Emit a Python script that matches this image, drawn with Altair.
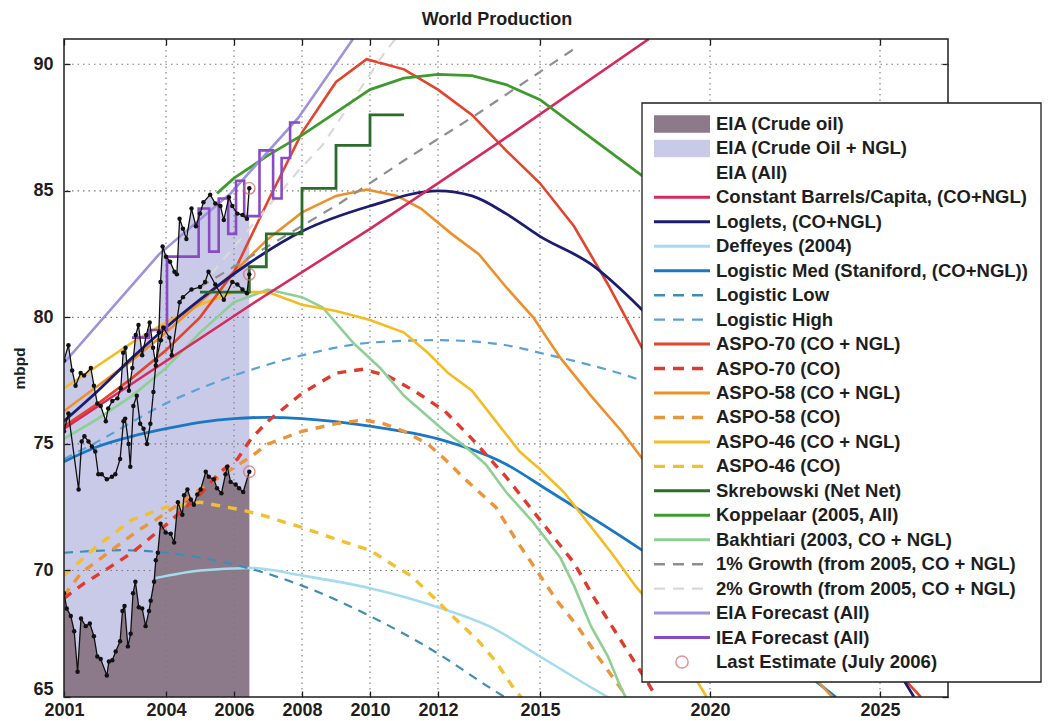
import altair as alt
import pandas as pd

FONT = "Liberation Sans"
INK = "#1e1e1e"
W, H = 884, 658

x_ticks = [2001, 2004, 2006, 2008, 2010, 2012, 2015, 2020, 2025]
y_ticks = [65, 70, 75, 80, 85, 90]
grid_x = [2004, 2006, 2008, 2010, 2012, 2015, 2020, 2025]
grid_y = [70, 75, 80, 85, 90]
title_text = "World Production"

# ---- EIA monthly data ----
crude_t = [2001.00, 2001.08, 2001.20, 2001.30, 2001.40, 2001.50, 2001.64, 2001.76, 2001.88, 2001.98,
           2002.08, 2002.26, 2002.32, 2002.42, 2002.52, 2002.65, 2002.72, 2002.78, 2002.88, 2002.96,
           2003.03, 2003.10, 2003.20, 2003.30, 2003.40, 2003.50, 2003.55, 2003.65, 2003.70, 2003.76,
           2003.84, 2003.99, 2004.14, 2004.24, 2004.35, 2004.48, 2004.53, 2004.63, 2004.73, 2004.82,
           2004.92, 2005.02, 2005.17, 2005.26, 2005.41, 2005.50, 2005.63, 2005.75, 2005.80, 2005.90,
           2006.05, 2006.15, 2006.27, 2006.45]
crude_v = [69.1, 68.5, 68.2, 67.6, 66.0, 68.1, 67.8, 67.9, 67.4, 66.6,
           66.5, 65.85, 66.4, 66.45, 66.8, 67.2, 68.4, 68.6, 67.0, 67.5,
           69.1, 69.55, 68.55, 68.5, 67.8, 68.4, 68.8, 69.55, 70.4, 70.7,
           71.85, 71.5, 71.45, 71.1, 72.7, 72.2, 72.97, 73.2, 72.8, 72.6,
           73.0, 73.2, 73.9, 73.7, 73.6, 73.25, 73.05, 73.8, 74.1, 73.5,
           73.4, 73.25, 73.1, 73.9]

cong_t = [2001.00, 2001.13, 2001.43, 2001.52, 2001.60, 2001.72, 2001.82, 2001.92, 2002.01, 2002.11,
          2002.26, 2002.41, 2002.51, 2002.65, 2002.75, 2002.80, 2002.90, 2002.95, 2003.04, 2003.14,
          2003.24, 2003.34, 2003.44, 2003.54, 2003.63, 2003.71, 2003.85, 2003.92, 2004.10, 2004.17,
          2004.40, 2004.50, 2004.75, 2005.00, 2005.15, 2005.25, 2005.45, 2005.70, 2005.95, 2006.10,
          2006.25, 2006.38, 2006.45]
cong_v = [75.5, 76.2, 73.2, 75.1, 75.3, 75.1, 74.9, 74.7, 73.8, 73.8,
          73.6, 73.7, 73.8, 74.4, 75.9, 76.0, 75.0, 74.1, 76.5, 76.9,
          75.8, 75.6, 75.0, 75.8, 77.05, 78.3, 79.1, 79.6, 79.2, 78.5,
          80.6, 80.8, 81.1, 81.2, 81.4, 81.8, 81.3, 80.7, 81.4, 81.3,
          81.1, 80.95, 81.7]

all_t = [2001.00, 2001.13, 2001.24, 2001.34, 2001.49, 2001.59, 2001.79, 2001.88, 2001.98, 2002.08,
         2002.23, 2002.30, 2002.42, 2002.57, 2002.67, 2002.74, 2002.81, 2002.91, 2003.01, 2003.11,
         2003.19, 2003.30, 2003.42, 2003.52, 2003.62, 2003.70, 2003.79, 2003.84, 2003.90, 2004.00,
         2004.12, 2004.25, 2004.32, 2004.40, 2004.50, 2004.60, 2004.75, 2004.88, 2005.00, 2005.10,
         2005.30, 2005.45, 2005.60, 2005.70, 2005.85, 2005.95, 2006.10, 2006.25, 2006.38, 2006.45]
all_v = [78.3, 78.9, 77.9, 77.3, 77.8, 77.7, 78.0, 77.3, 76.6, 76.5,
         75.9, 76.4, 76.7, 76.8, 77.2, 78.6, 78.8, 77.1, 78.0, 79.3,
         79.7, 78.5, 79.3, 79.8, 78.8, 78.1, 79.4, 81.4, 82.8, 82.4,
         82.2, 81.8, 81.7, 83.9, 83.5, 83.1, 84.3, 83.6, 84.1, 84.55,
         84.85, 84.5, 84.4, 83.85, 84.75, 84.4, 84.1, 84.05, 83.9, 85.1]

# ---- forecasts ----
cbc_t = [2001, 2006.5, 2010, 2014, 2018.2]
cbc_v = [75.6, 80.5, 83.5, 87.1, 91.0]
loglet_t = [2001, 2002, 2003, 2004, 2005, 2006.4, 2008, 2010, 2012, 2013, 2014, 2015, 2016.5, 2018, 2020, 2022, 2024, 2026]
loglet_v = [75.9, 77.1, 78.4, 79.6, 80.7, 82.1, 83.4, 84.4, 85.0, 84.8, 84.1, 83.2, 82.1, 80.3, 77.3, 73.6, 69.4, 65.0]
deff_t = [2003.7, 2005, 2006.5, 2008, 2010, 2012, 2013.5, 2015, 2016.6, 2017.5]
deff_v = [69.7, 70.0, 70.1, 69.8, 69.3, 68.55, 67.8, 66.6, 65.3, 64.6]
lmed_t = [2001, 2002, 2003, 2004, 2005, 2006, 2007, 2008, 2010, 2012, 2014, 2015.2, 2018, 2020, 2022, 2023.7]
lmed_v = [74.3, 74.9, 75.3, 75.6, 75.85, 76.0, 76.05, 76.0, 75.7, 75.2, 74.2, 73.2, 70.8, 68.9, 66.8, 65.0]
llow_t = [2001, 2002.7, 2004.6, 2006.4, 2008, 2010, 2011.9, 2013.6, 2014.2]
llow_v = [70.7, 70.8, 70.6, 70.1, 69.4, 68.2, 66.8, 65.3, 64.8]
lhigh_t = [2001, 2002, 2004, 2006, 2008, 2010, 2012, 2014, 2015, 2018, 2020]
lhigh_v = [74.4, 75.1, 76.6, 77.7, 78.5, 79.0, 79.1, 78.9, 78.6, 77.5, 76.4]
a70_t = [2001, 2002, 2003, 2004, 2005, 2006, 2007, 2008, 2009, 2009.9, 2011, 2012, 2013, 2014, 2015, 2016, 2017, 2018, 2020, 2022, 2024, 2026.2]
a70_v = [75.7, 76.6, 77.6, 78.7, 80.0, 81.8, 84.6, 87.3, 89.3, 90.2, 89.8, 89.0, 88.0, 86.6, 85.3, 83.6, 81.3, 78.8, 75.0, 71.4, 68.2, 65.0]
a70co_t = [2001, 2001.6, 2002.2, 2003, 2004, 2005, 2005.6, 2006.1, 2006.5, 2007, 2008, 2009, 2009.8, 2010.5, 2011.3, 2012.2, 2013, 2014, 2015, 2016, 2016.6, 2017.3, 2018.2, 2018.5]
a70co_v = [68.9, 69.5, 70.0, 70.7, 71.8, 73.0, 73.9, 74.4, 75.2, 75.9, 77.0, 77.8, 77.95, 77.7, 77.1, 76.3, 75.2, 73.7, 72.0, 70.3, 68.9, 67.4, 65.5, 64.8]
a58_t = [2001, 2002, 2003, 2004, 2005, 2006, 2007, 2008, 2009, 2009.9, 2010.8, 2011.5, 2012.4, 2013.2, 2014, 2014.8, 2015.6, 2016.5, 2017.4, 2018.3, 2020, 2022, 2023.6]
a58_v = [76.3, 77.3, 78.3, 79.4, 80.6, 81.8, 83.1, 84.15, 84.8, 85.05, 84.8, 84.3, 83.3, 82.5, 81.2, 80.0, 78.4, 76.9, 75.5, 73.9, 70.6, 67.3, 65.0]
a58co_t = [2001, 2001.5, 2002.1, 2002.7, 2003.2, 2003.7, 2005, 2006.5, 2007, 2008, 2009, 2009.8, 2010.4, 2011, 2011.7, 2012.2, 2012.8, 2013.7, 2014.3, 2014.9, 2015.5, 2016.1, 2016.7, 2017.4, 2017.6]
a58co_v = [69.0, 69.9, 70.5, 71.1, 71.6, 72.0, 73.2, 74.5, 75.0, 75.5, 75.8, 75.95, 75.8, 75.5, 75.0, 74.4, 73.6, 72.5, 71.2, 70.0, 68.8, 67.8, 66.6, 65.3, 64.9]
a46_t = [2001, 2002, 2003, 2004, 2005, 2006, 2007, 2008, 2009, 2010, 2011, 2011.7, 2012.3, 2013, 2013.7, 2014.4, 2015, 2015.7, 2016.4, 2017.1, 2017.8, 2018.3, 2019.9]
a46_v = [77.2, 78.1, 79.0, 79.8, 80.5, 81.0, 81.0, 80.5, 80.25, 79.9, 79.4, 78.6, 77.8, 77.1, 75.9, 74.7, 74.0, 73.1, 71.9, 70.7, 69.4, 68.6, 65.0]
a46co_t = [2001, 2002, 2003, 2004, 2005, 2006.2, 2006.8, 2007.5, 2008, 2009.3, 2010, 2010.7, 2011.2, 2011.9, 2012.5, 2013.2, 2013.7, 2014.2, 2014.5]
a46co_v = [69.8, 71.0, 72.0, 72.5, 72.7, 72.4, 72.2, 71.9, 71.7, 71.1, 70.8, 70.2, 69.8, 68.9, 68.1, 67.2, 66.4, 65.4, 64.9]
skr_t = [2005.0, 2006.45, 2006.95, 2008, 2009, 2010, 2011]
skr_v = [81.0, 82.0, 83.3, 85.1, 86.8, 88.0, 88.0]
kop_t = [2005.5, 2006, 2007, 2008, 2009, 2010, 2011, 2012, 2013, 2014, 2015, 2016, 2017, 2018, 2018.4]
kop_v = [84.9, 85.5, 86.4, 87.2, 88.1, 89.0, 89.45, 89.6, 89.55, 89.2, 88.6, 87.6, 86.6, 85.6, 85.2]
bak_t = [2001, 2002, 2003, 2004, 2005, 2006, 2007, 2008, 2008.6, 2009.5, 2010.3, 2011, 2011.6, 2012.2, 2012.8, 2013.4, 2014, 2014.8, 2015.6, 2016, 2016.5, 2017, 2017.4, 2017.6]
bak_v = [75.2, 76.0, 76.9, 78.0, 79.4, 80.6, 81.1, 80.8, 80.4, 79.0, 78.0, 76.9, 76.2, 75.5, 74.9, 74.2, 73.1, 71.9, 70.5, 69.4, 67.8, 66.6, 65.3, 64.8]
g1_t = [2005, 2009.1, 2011, 2013, 2015, 2016.1]
g1_v = [81.2, 84.5, 86.2, 87.9, 89.7, 90.7]
g2_t = [2005, 2007.9, 2008.6, 2010.4, 2010.8]
g2_v = [81.2, 85.8, 86.8, 90.4, 91.1]
eiaf_t = [2001, 2003.8, 2005.9, 2007.9, 2009.5]
eiaf_v = [78.2, 82.5, 84.9, 87.9, 91.0]
ieaf_t = [2003.0, 2003.5, 2004.03, 2004.96, 2005.27, 2005.55, 2005.83, 2006.06, 2006.3, 2006.75, 2007.15, 2007.4, 2007.65, 2007.95]
ieaf_v = [79.2, 79.5, 82.4, 84.3, 82.6, 84.7, 83.3, 85.4, 84.0, 86.6, 84.7, 86.3, 87.7, 87.7]
last_t = [2006.45, 2006.45, 2006.45]
last_v = [85.1, 81.7, 73.9]

legend_labels = [
    "EIA (Crude oil)", "EIA (Crude Oil + NGL)", "EIA (All)",
    "Constant Barrels/Capita, (CO+NGL)", "Loglets, (CO+NGL)", "Deffeyes (2004)",
    "Logistic Med (Staniford, (CO+NGL))", "Logistic Low", "Logistic High",
    "ASPO-70 (CO + NGL)", "ASPO-70 (CO)", "ASPO-58 (CO + NGL)", "ASPO-58 (CO)",
    "ASPO-46 (CO + NGL)", "ASPO-46 (CO)", "Skrebowski (Net Net)", "Koppelaar (2005, All)",
    "Bakhtiari (2003, CO + NGL)", "1% Growth (from 2005, CO + NGL)",
    "2% Growth (from 2005, CO + NGL)", "EIA Forecast (All)", "IEA Forecast (All)",
    "Last Estimate (July 2006)",
]

# ---- styles ----
C = {
    "crude": "#8c7a8a", "cong": "#c9c9e8", "cbc": "#d42a5c", "loglet": "#1c1c72",
    "deff": "#a4dcee", "lmed": "#1a78c2", "llow": "#3f8db5", "lhigh": "#5aa2d6",
    "a70": "#e4432c", "a70co": "#e03a2e", "a58": "#ee8f2c", "a58co": "#e8953c",
    "a46": "#f4bb22", "a46co": "#f0c030", "skr": "#2b6b2b", "kop": "#3f9a2e",
    "bak": "#8fcf95", "g1": "#8e8e8e", "g2": "#d9d9d9", "eiaf": "#9d92dc",
    "ieaf": "#8a4ac2", "last": "#d46a6a",
}
legend_kinds = ["patch", "patch", "none", "solid", "solid", "solid", "solid", "dash", "dash",
                "solid", "dashb", "solid", "dashb", "solid", "dashb", "solid", "solid", "solid",
                "dash", "dash", "solid", "solid", "circle"]
legend_colors = [C["crude"], C["cong"], "#ffffff", C["cbc"], C["loglet"], C["deff"], C["lmed"],
                 C["llow"], C["lhigh"], C["a70"], C["a70co"], C["a58"], C["a58co"], C["a46"],
                 C["a46co"], C["skr"], C["kop"], C["bak"], C["g1"], C["g2"], C["eiaf"],
                 C["ieaf"], C["last"]]

xs = alt.Scale(domain=[2001, 2027], nice=False, zero=False)
ys = alt.Scale(domain=[65, 91], nice=False, zero=False)

TICK = dict(ticks=True, tickSize=6, tickWidth=1.3, tickColor=INK, offset=-6,
            grid=False, domain=False)
LBL = dict(labelFont=FONT, labelFontSize=18, labelFontWeight="bold", labelColor=INK)

x_axis = alt.Axis(values=x_ticks, format="d", labelFlush=False, labelPadding=4,
                  labelOverlap=False, zindex=1, **LBL, **TICK)
x_axis_top = alt.Axis(values=x_ticks, orient="top", labels=False, zindex=1, **TICK)
y_axis = alt.Axis(values=y_ticks, labelPadding=11, zindex=1,
                  labelOffset={"condition": {"test": "datum.value == 65", "value": -8}, "value": 0},
                  titleFont=FONT, titleFontSize=15.5, titleFontWeight="bold",
                  titleColor=INK, titlePadding=5, **LBL, **TICK)
# right-hand ticks sit beneath the legend box (zindex 0)
y_axis_right = alt.Axis(values=y_ticks, orient="right", labels=False, title=None, zindex=0, **TICK)


def X(f="t", axis=None):
    return alt.X(f"{f}:Q", scale=xs, axis=axis, title=None)


def Y(f="v", axis=None):
    return alt.Y(f"{f}:Q", scale=ys, axis=axis, title="mbpd" if axis is y_axis else None)


def line(t, v, color, width=2.6, dash=None, interp="linear"):
    kw = dict(color=color, strokeWidth=width, clip=True, interpolate=interp)
    if dash:
        kw["strokeDash"] = dash
    return alt.Chart(pd.DataFrame({"t": t, "v": v})).mark_line(**kw).encode(x=X(), y=Y())


def area(t, v, color):
    return alt.Chart(pd.DataFrame({"t": t, "v": v})).mark_area(
        color=color, opacity=1, clip=True).encode(x=X(), y=Y(), y2=alt.datum(65))


def black(t, v):
    return alt.Chart(pd.DataFrame({"t": t, "v": v})).mark_line(
        color="#111111", strokeWidth=1.3, clip=True,
        point=alt.OverlayMarkDef(filled=True, color="#111111", size=20)).encode(x=X(), y=Y())


DASH_B = [9, 8]
DASH_L = [9, 7]
DASH_G = [10, 8]

GRID = dict(color="#7a7a7a", strokeDash=[1.5, 4], strokeWidth=1.1)
grid_v = alt.Chart(pd.DataFrame({"t": grid_x})).mark_rule(**GRID).encode(x=X(axis=x_axis))
grid_h = alt.Chart(pd.DataFrame({"v": grid_y})).mark_rule(**GRID).encode(y=Y(axis=y_axis))
ticks_top = alt.Chart(pd.DataFrame({"t": grid_x})).mark_rule(opacity=0).encode(x=X(axis=x_axis_top))
ticks_right = alt.Chart(pd.DataFrame({"v": grid_y})).mark_rule(opacity=0).encode(y=Y(axis=y_axis_right))

frame = alt.Chart(alt.Data(values=[{"f": 1}])).mark_rect(
    fillOpacity=0, stroke=INK, strokeWidth=1.5).encode(
    x=alt.value(0), x2=alt.value(W), y=alt.value(0), y2=alt.value(H))

last = alt.Chart(pd.DataFrame({"t": last_t, "v": last_v})).mark_point(
    shape="circle", filled=False, size=130, color=C["last"], strokeWidth=1.5,
    clip=True).encode(x=X(), y=Y())

main = alt.layer(
    area(all_t, all_v, C["cong"]),
    area(crude_t, crude_v, C["crude"]),
    grid_v, grid_h, ticks_top, ticks_right,
    line(deff_t, deff_v, C["deff"], interp="monotone"),
    line(llow_t, llow_v, C["llow"], 2.2, DASH_L, "monotone"),
    line(lhigh_t, lhigh_v, C["lhigh"], 2.2, DASH_L, "monotone"),
    line(lmed_t, lmed_v, C["lmed"], 2.8, interp="monotone"),
    line(a46co_t, a46co_v, C["a46co"], 3.4, DASH_B),
    line(a58co_t, a58co_v, C["a58co"], 3.4, DASH_B),
    line(a70co_t, a70co_v, C["a70co"], 3.4, DASH_B),
    line(bak_t, bak_v, C["bak"]),
    line(a46_t, a46_v, C["a46"]),
    line(a58_t, a58_v, C["a58"]),
    line(a70_t, a70_v, C["a70"]),
    line(loglet_t, loglet_v, C["loglet"], 2.8, interp="monotone"),
    line(cbc_t, cbc_v, C["cbc"]),
    line(g1_t, g1_v, C["g1"], 2.2, DASH_G),
    line(g2_t, g2_v, C["g2"], 2.2, DASH_G),
    line(kop_t, kop_v, C["kop"], 2.8),
    line(skr_t, skr_v, C["skr"], 2.8, interp="step-after"),
    line(eiaf_t, eiaf_v, C["eiaf"]),
    line(ieaf_t, ieaf_v, C["ieaf"], 2.6, interp="step-after"),
    black(crude_t, crude_v),
    black(cong_t, cong_v),
    black(all_t, all_v),
    last,
    frame,
).resolve_axis(x="independent", y="independent")

# ---- legend box ----
leg = pd.DataFrame({"row": list(range(len(legend_labels))), "label": legend_labels,
                    "kind": legend_kinds, "color": legend_colors})
ly = alt.Scale(domain=[0, len(legend_labels) - 1], range=[85, 623])
LY = alt.Y("row:Q", scale=ly, axis=None)
base = alt.Chart(leg)

leg_box = alt.Chart(alt.Data(values=[{"f": 1}])).mark_rect(
    fill="white", stroke=INK, strokeWidth=1.3).encode(
    x=alt.value(578), x2=alt.value(977), y=alt.value(64), y2=alt.value(643))
leg_patch = base.transform_filter(alt.datum.kind == "patch").transform_calculate(
    r0="datum.row - 0.36", r1="datum.row + 0.36").mark_rect().encode(
    x=alt.value(590), x2=alt.value(646),
    y=alt.Y("r0:Q", scale=ly, axis=None), y2="r1:Q",
    color=alt.Color("color:N", scale=None))
leg_solid = base.transform_filter(alt.datum.kind == "solid").mark_rule(strokeWidth=3).encode(
    x=alt.value(590), x2=alt.value(646), y=LY, color=alt.Color("color:N", scale=None))
leg_dash = base.transform_filter(alt.datum.kind == "dash").mark_rule(
    strokeWidth=2.4, strokeDash=[11, 8]).encode(
    x=alt.value(590), x2=alt.value(646), y=LY, color=alt.Color("color:N", scale=None))
leg_dashb = base.transform_filter(alt.datum.kind == "dashb").mark_rule(
    strokeWidth=3.4, strokeDash=[11, 8]).encode(
    x=alt.value(590), x2=alt.value(646), y=LY, color=alt.Color("color:N", scale=None))
leg_circ = base.transform_filter(alt.datum.kind == "circle").mark_point(
    shape="circle", filled=False, size=150, strokeWidth=1.5).encode(
    x=alt.value(618), y=LY, color=alt.Color("color:N", scale=None))
leg_text = base.mark_text(align="left", baseline="middle", font=FONT, fontSize=18.5,
                          fontWeight="bold", color=INK).encode(
    x=alt.value(652), y=LY, text="label:N")

title_mark = alt.Chart(alt.Data(values=[{"f": 1}])).mark_text(
    text=title_text, font=FONT, fontSize=18, fontWeight="bold", color=INK,
    align="center", baseline="alphabetic").encode(
    x=alt.value(W / 2 - 9), y=alt.value(-14))

legend = alt.layer(leg_box, leg_patch, leg_solid, leg_dash, leg_dashb, leg_circ, leg_text, title_mark)

chart = alt.layer(main, legend).resolve_scale(y="independent").properties(
    width=W, height=H,
    padding={"left": 56, "top": 31, "right": 94, "bottom": 22},
    autosize=alt.AutoSizeParams(type="none"),
).configure_view(stroke="transparent")

chart.save("out.html", embed_options={"renderer": "svg", "actions": False})
